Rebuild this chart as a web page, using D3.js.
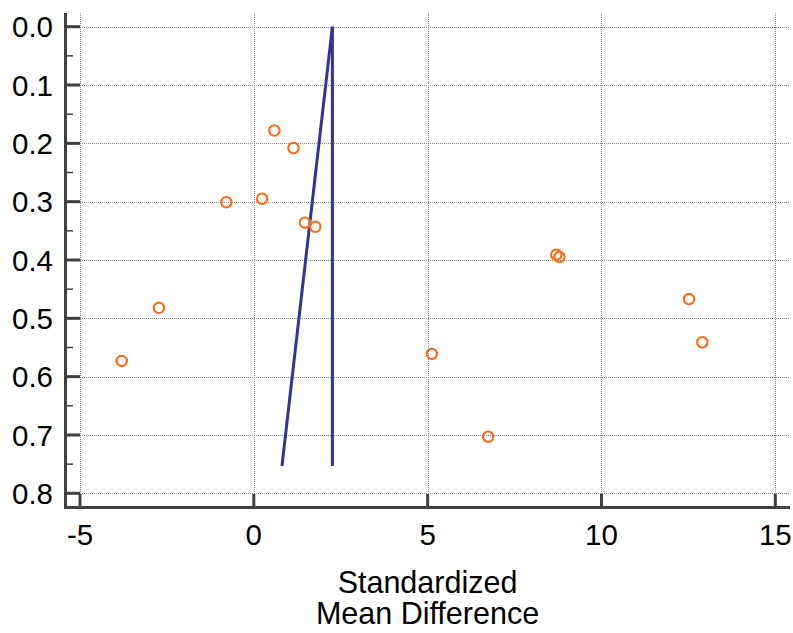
<!DOCTYPE html>
<html>
<head>
<meta charset="utf-8">
<script src="https://cdn.jsdelivr.net/npm/d3@7/dist/d3.min.js"></script>
<style>
  html, body { margin: 0; padding: 0; background: #fff; }
  svg text { font-family: "Liberation Sans", Arial, sans-serif; fill: #000; }
</style>
</head>
<body>
<svg id="chart" width="793" height="633"></svg>
<script>
// Data
const smd = [0.59, 1.14, -0.79, 0.24, 1.47, 1.77, -2.73, -3.80, 5.12, 6.74, 8.70, 8.79, 12.52, 12.90];
const se  = [0.178, 0.208, 0.301, 0.295, 0.336, 0.343, 0.482, 0.573, 0.561, 0.703, 0.391, 0.395, 0.467, 0.541];
const xTicks = [-5, 0, 5, 10, 15];
const yTicks = [0.0, 0.1, 0.2, 0.3, 0.4, 0.5, 0.6, 0.7, 0.8];
const yMinorTicks = [0.05, 0.15, 0.25, 0.35, 0.45, 0.55, 0.65, 0.75];
const pooledMean = 2.26;
const funnelLeftX = [2.26, 0.81];
const funnelSE = [0, 0.753];
const xLabelLines = ["Standardized", "Mean Difference"];

const svg = d3.select("#chart");
const x = d3.scaleLinear().domain([-5, 15]).range([80, 775.3]);
const y = d3.scaleLinear().domain([0, 0.8]).range([26.7, 493.3]);
const axisLeftX = 65.5, axisBottomY = 507.5, topY = 13, rightX = 790;

// grid
const grid = svg.append("g").attr("stroke", "#8a8a8a").attr("stroke-width", 1)
  .attr("stroke-dasharray", "1,1").attr("shape-rendering", "crispEdges");
grid.selectAll("line.v").data(xTicks).join("line")
  .attr("x1", d => Math.round(x(d)) + 0.5).attr("x2", d => Math.round(x(d)) + 0.5)
  .attr("y1", topY).attr("y2", 507);
grid.selectAll("line.h").data(yTicks).join("line")
  .attr("x1", 66).attr("x2", rightX)
  .attr("y1", d => Math.round(y(d)) + 0.5).attr("y2", d => Math.round(y(d)) + 0.5);

// funnel lines
const lineCol = "#333399";
svg.append("line")
  .attr("x1", x(pooledMean)).attr("x2", x(pooledMean))
  .attr("y1", y(funnelSE[0])).attr("y2", y(funnelSE[1]))
  .attr("stroke", lineCol).attr("stroke-width", 3);
svg.append("line")
  .attr("x1", x(funnelLeftX[0])).attr("x2", x(funnelLeftX[1]))
  .attr("y1", y(funnelSE[0])).attr("y2", y(funnelSE[1]))
  .attr("stroke", lineCol).attr("stroke-width", 3);

// points
svg.append("g").selectAll("circle").data(smd.map((d, i) => [d, se[i]])).join("circle")
  .attr("cx", d => x(d[0])).attr("cy", d => y(d[1])).attr("r", 5.2)
  .attr("fill", "none").attr("stroke", "#ff6a10").attr("stroke-width", 2.1);

// axes
const axCol = "#404040";
const ax = svg.append("g").attr("stroke", axCol);
ax.append("line").attr("x1", axisLeftX).attr("x2", axisLeftX).attr("y1", topY).attr("y2", axisBottomY + 1.5).attr("stroke-width", 3);
ax.append("line").attr("x1", axisLeftX - 1.5).attr("x2", rightX).attr("y1", axisBottomY).attr("y2", axisBottomY).attr("stroke-width", 3);
ax.selectAll("line.yt").data(yTicks).join("line")
  .attr("x1", axisLeftX).attr("x2", 80).attr("y1", d => y(d)).attr("y2", d => y(d)).attr("stroke-width", 3);
ax.selectAll("line.ym").data(yMinorTicks).join("line")
  .attr("x1", axisLeftX).attr("x2", 73).attr("y1", d => y(d)).attr("y2", d => y(d)).attr("stroke-width", 1.5);
ax.selectAll("line.xt").data(xTicks).join("line")
  .attr("x1", d => x(d)).attr("x2", d => x(d)).attr("y1", axisBottomY).attr("y2", 494).attr("stroke-width", 3);

// tick labels
svg.append("g").selectAll("text").data(yTicks).join("text")
  .attr("x", 53).attr("y", d => y(d) + 10.6)
  .attr("text-anchor", "end").attr("font-size", 29.5)
  .text(d => d3.format(".1f")(d));
svg.append("g").selectAll("text").data(xTicks).join("text")
  .attr("x", d => x(d)).attr("y", 545)
  .attr("text-anchor", "middle").attr("font-size", 29.5)
  .text(d => d < 0 ? "-" + Math.abs(d) : String(d));

// x label
svg.append("g").selectAll("text").data(xLabelLines).join("text")
  .attr("x", 427.5).attr("y", (d, i) => 592.5 + i * 31)
  .attr("text-anchor", "middle").attr("font-size", 30.5)
  .text(d => d);
</script>
</body>
</html>
